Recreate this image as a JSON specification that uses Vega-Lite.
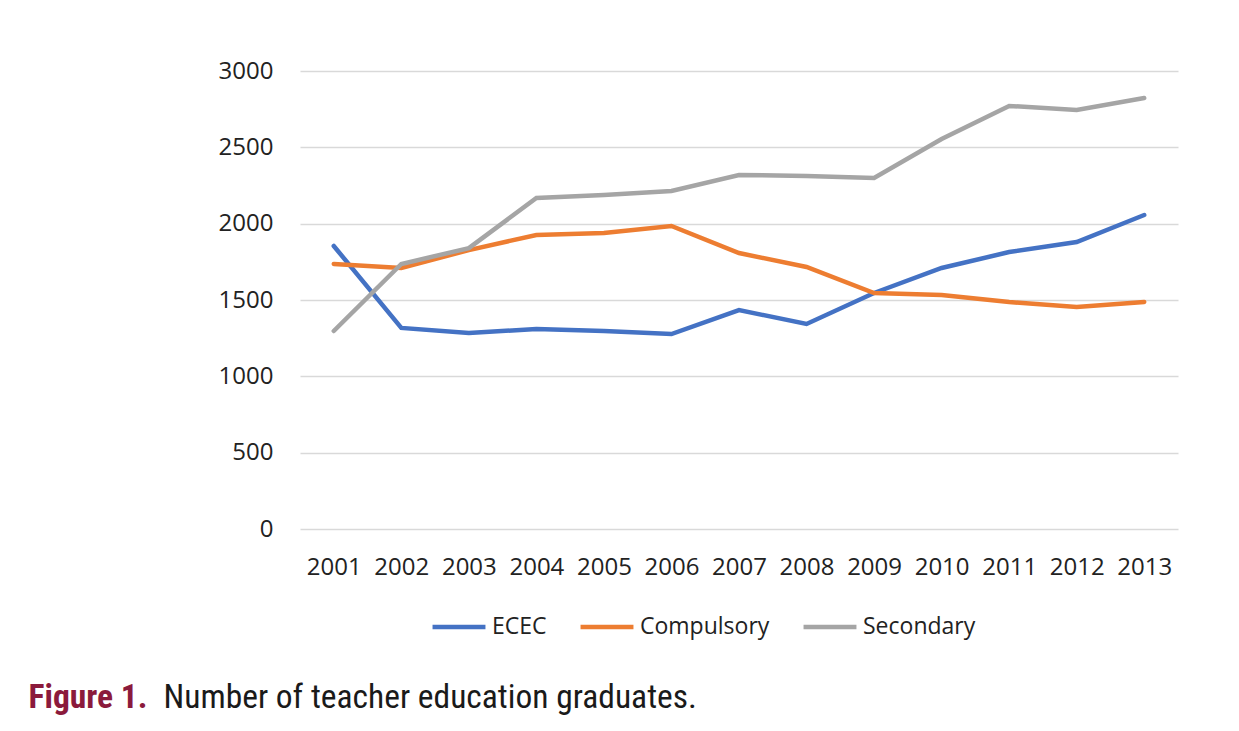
{
  "$schema": "https://vega.github.io/schema/vega-lite/v6.json",
  "autosize": {"type": "none"},
  "width": 878,
  "height": 458,
  "padding": {"left": 300, "top": 71, "right": 61, "bottom": 202},
  "background": "#ffffff",
  "data": {
    "values": [
      {"year": "2001", "series": "ECEC", "value": 1854},
      {"year": "2002", "series": "ECEC", "value": 1317},
      {"year": "2003", "series": "ECEC", "value": 1284},
      {"year": "2004", "series": "ECEC", "value": 1310},
      {"year": "2005", "series": "ECEC", "value": 1297},
      {"year": "2006", "series": "ECEC", "value": 1277},
      {"year": "2007", "series": "ECEC", "value": 1434},
      {"year": "2008", "series": "ECEC", "value": 1343},
      {"year": "2009", "series": "ECEC", "value": 1546},
      {"year": "2010", "series": "ECEC", "value": 1710},
      {"year": "2011", "series": "ECEC", "value": 1814},
      {"year": "2012", "series": "ECEC", "value": 1880},
      {"year": "2013", "series": "ECEC", "value": 2057},
      {"year": "2001", "series": "Compulsory", "value": 1736},
      {"year": "2002", "series": "Compulsory", "value": 1710},
      {"year": "2003", "series": "Compulsory", "value": 1827},
      {"year": "2004", "series": "Compulsory", "value": 1926},
      {"year": "2005", "series": "Compulsory", "value": 1939},
      {"year": "2006", "series": "Compulsory", "value": 1985},
      {"year": "2007", "series": "Compulsory", "value": 1808},
      {"year": "2008", "series": "Compulsory", "value": 1716},
      {"year": "2009", "series": "Compulsory", "value": 1546},
      {"year": "2010", "series": "Compulsory", "value": 1533},
      {"year": "2011", "series": "Compulsory", "value": 1487},
      {"year": "2012", "series": "Compulsory", "value": 1454},
      {"year": "2013", "series": "Compulsory", "value": 1487},
      {"year": "2001", "series": "Secondary", "value": 1297},
      {"year": "2002", "series": "Secondary", "value": 1736},
      {"year": "2003", "series": "Secondary", "value": 1840},
      {"year": "2004", "series": "Secondary", "value": 2168},
      {"year": "2005", "series": "Secondary", "value": 2188},
      {"year": "2006", "series": "Secondary", "value": 2214},
      {"year": "2007", "series": "Secondary", "value": 2319},
      {"year": "2008", "series": "Secondary", "value": 2312},
      {"year": "2009", "series": "Secondary", "value": 2299},
      {"year": "2010", "series": "Secondary", "value": 2555},
      {"year": "2011", "series": "Secondary", "value": 2771},
      {"year": "2012", "series": "Secondary", "value": 2745},
      {"year": "2013", "series": "Secondary", "value": 2823}
    ]
  },
  "mark": {"type": "line", "strokeWidth": 4.5, "strokeCap": "round", "strokeJoin": "miter"},
  "encoding": {
    "x": {
      "field": "year",
      "type": "ordinal",
      "scale": {"type": "point", "padding": 0.5},
      "axis": {
        "title": "Figure 1.",
        "titleAngle": 0,
        "titleX": -272,
        "titleY": 178,
        "titleAlign": "left",
        "titleBaseline": "alphabetic",
        "titleFont": "Roboto Condensed, Liberation Sans Narrow, Roboto, sans-serif",
        "titleFontSize": 33.5,
        "titleFontWeight": "bold",
        "titleColor": "#8B1A3C",
        "labelAngle": 0,
        "labelFont": "Open Sans",
        "labelFontSize": 24,
        "labelColor": "#222222",
        "labelPadding": 26,
        "domain": false,
        "ticks": false,
        "grid": false
      }
    },
    "y": {
      "field": "value",
      "type": "quantitative",
      "scale": {"domain": [0, 3000], "nice": false},
      "axis": {
        "values": [0, 500, 1000, 1500, 2000, 2500, 3000],
        "format": "d",
        "title": "Number of teacher education graduates.",
        "titleAngle": 0,
        "titleX": -137,
        "titleY": 636,
        "titleAlign": "left",
        "titleBaseline": "alphabetic",
        "titleFont": "Roboto Condensed, Liberation Sans Narrow, Roboto, sans-serif",
        "titleFontSize": 33.5,
        "titleFontWeight": "normal",
        "titleColor": "#1a1a1a",
        "labelFont": "Open Sans",
        "labelFontSize": 24,
        "labelColor": "#222222",
        "labelPadding": 27,
        "domain": false,
        "ticks": false,
        "grid": true,
        "gridColor": "#D9D9D9",
        "gridWidth": 1.5
      }
    },
    "color": {
      "field": "series",
      "type": "nominal",
      "sort": ["ECEC", "Compulsory", "Secondary"],
      "scale": {"domain": ["ECEC", "Compulsory", "Secondary"], "range": ["#4472C4", "#ED7D31", "#A5A5A5"]},
      "legend": {
        "title": null,
        "orient": "none",
        "direction": "horizontal",
        "legendX": 130,
        "legendY": 527,
        "symbolType": "stroke",
        "symbolSize": 2800,
        "symbolStrokeWidth": 4.5,
        "labelFont": "Open Sans",
        "labelFontSize": 23,
        "labelColor": "#222222",
        "labelOffset": 4,
        "columnPadding": 24,
        "symbolOffset": 0
      }
    }
  },
  "config": {"view": {"stroke": null}}
}
